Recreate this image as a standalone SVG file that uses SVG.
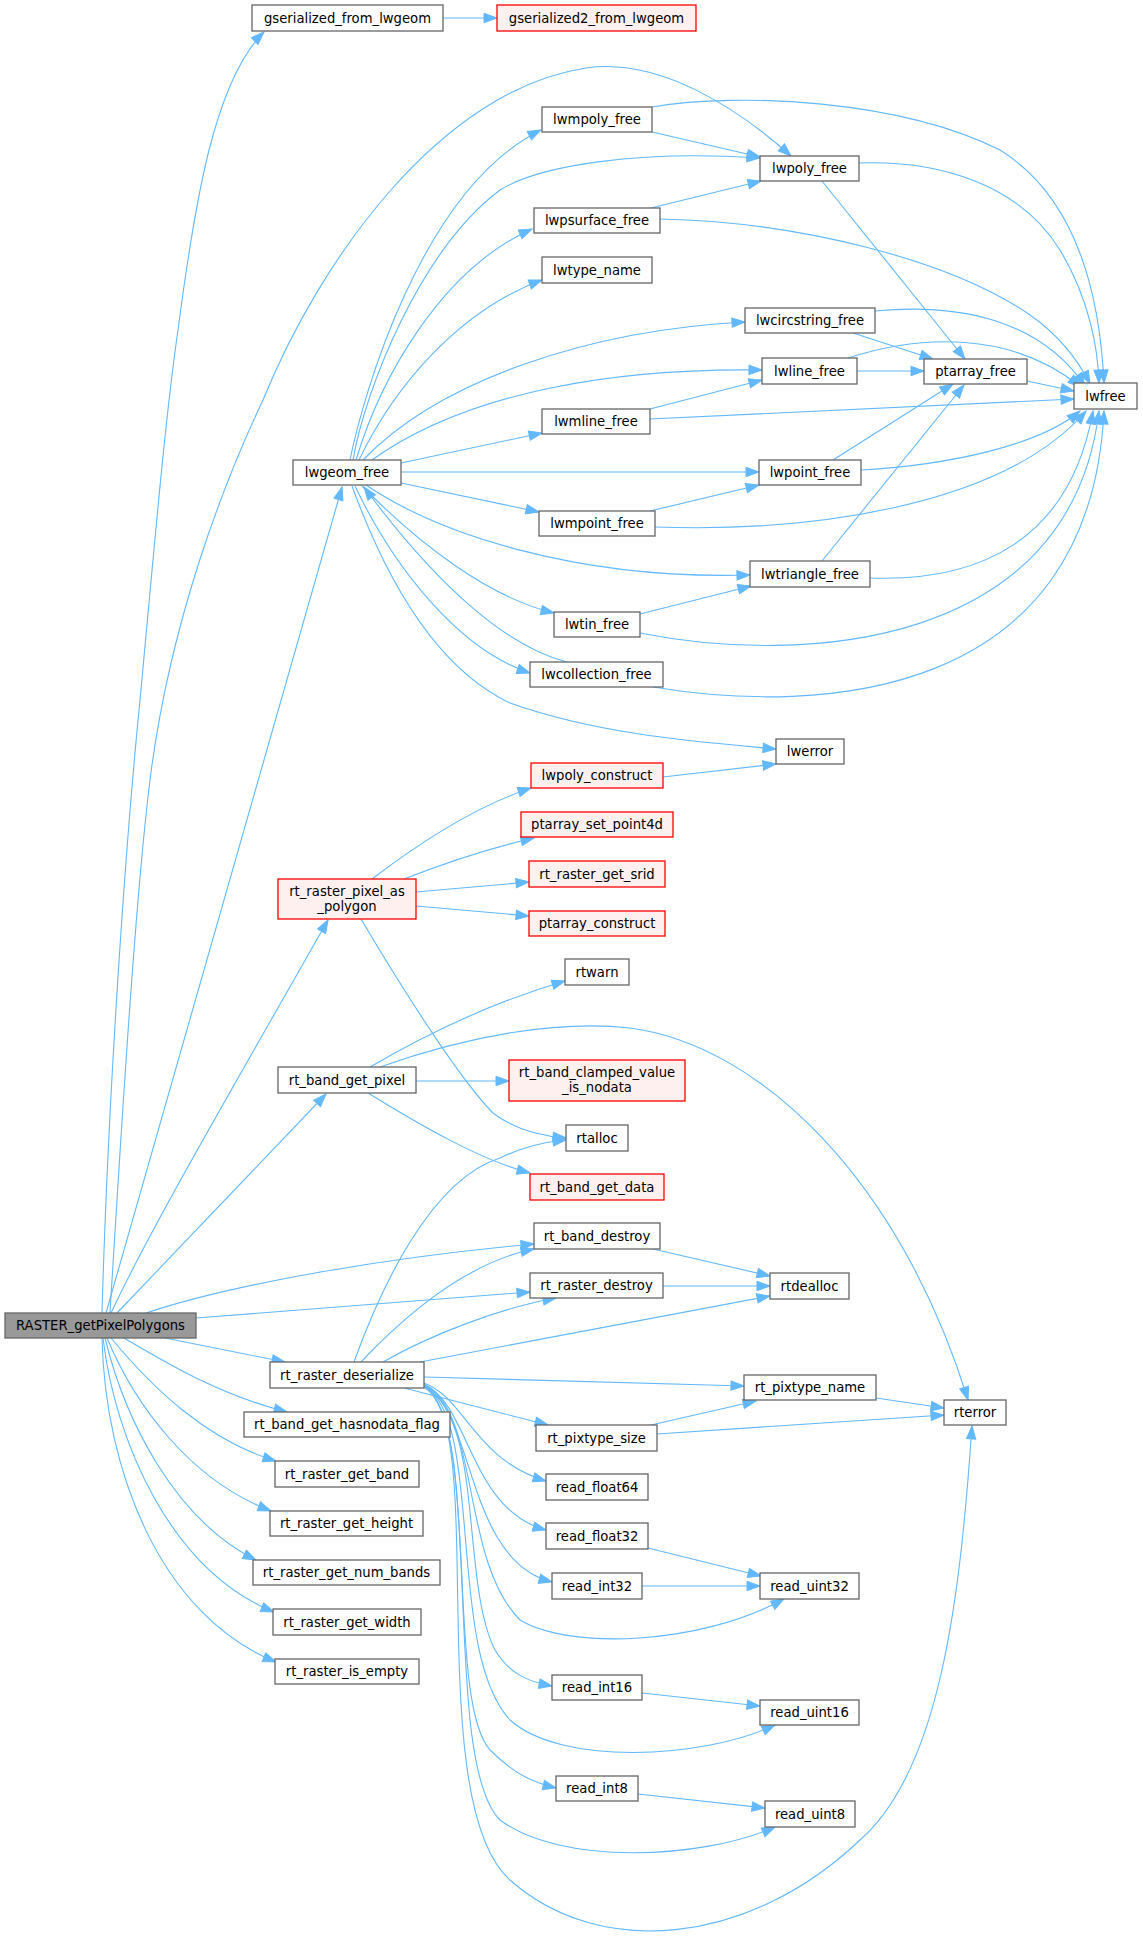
<svg xmlns="http://www.w3.org/2000/svg" width="1143" height="1940" viewBox="0 0 1143 1940">
<defs>
<marker id="a" markerUnits="userSpaceOnUse" markerWidth="14" markerHeight="10" refX="13" refY="4.7" orient="auto" overflow="visible">
<path d="M0,0 L13,4.7 L0,9.4 z" fill="#63b8ff" stroke="#63b8ff" stroke-width="1"/>
</marker>
<style>
.n rect{fill:#ffffff;stroke:#666666;stroke-width:1.3}
.r rect{fill:#fff0f0;stroke:#ff0000;stroke-width:1.3}
.m rect{fill:#999999;stroke:#666666;stroke-width:1.3}
text{font-family:"DejaVu Sans","Liberation Sans",sans-serif;font-size:13.2px;text-anchor:middle;fill:#000000}
#edges path{fill:none;stroke:#63b8ff;stroke-width:1.1;marker-end:url(#a)}
</style>
</defs>
<rect width="1143" height="1940" fill="#ffffff"/>
<g id="edges">
<path d="M102,1313 C108,1100 125,850 140,700 C155,540 165,420 178,330 C195,200 215,80 264,32"/>
<path d="M110,1313 C120,1150 135,900 150,780 C170,620 225,480 263,400 C320,260 440,90 586,68 C660,57 740,110 791,156"/>
<path d="M106,1313 L342,487"/>
<path d="M111,1313 C150,1230 220,1110 328,920"/>
<path d="M117,1313 L326,1094"/>
<path d="M146,1313 C230,1285 380,1258 534,1244"/>
<path d="M196,1318 L530,1292"/>
<path d="M165,1338 L285,1362"/>
<path d="M124,1338 C170,1365 220,1395 287,1412"/>
<path d="M111,1338 C150,1385 205,1440 276,1461"/>
<path d="M107,1338 C135,1405 190,1480 271,1511"/>
<path d="M105,1338 C125,1420 175,1520 256,1560"/>
<path d="M103,1338 C115,1440 170,1570 274,1612"/>
<path d="M102,1338 C105,1470 160,1615 276,1662"/>
<path d="M443,18 L497,18"/>
<path d="M350,460 C362,400 420,190 541,130"/>
<path d="M353,460 C365,390 420,250 500,190 C540,165 640,150 760,158"/>
<path d="M356,460 C380,380 440,270 532,229"/>
<path d="M359,460 C395,385 460,310 542,280"/>
<path d="M363,460 C440,380 590,330 745,322"/>
<path d="M372,460 C470,390 620,368 762,370"/>
<path d="M401,463 L542,433"/>
<path d="M401,472 L759,472"/>
<path d="M401,483 L539,512"/>
<path d="M366,485 C440,535 580,580 750,575"/>
<path d="M362,486 C420,545 490,598 554,613"/>
<path d="M355,486 C395,570 460,650 530,673"/>
<path d="M567,662 C510,648 440,590 364,487"/>
<path d="M352,486 C390,590 440,670 510,703 C600,735 700,742 776,749"/>
<path d="M652,132 L760,157"/>
<path d="M652,107 C740,92 900,100 1000,150 C1080,200 1100,300 1104,383"/>
<path d="M859,163 C940,160 1020,185 1060,250 C1090,300 1098,350 1099,383"/>
<path d="M822,181 L965,359"/>
<path d="M651,208 L761,181"/>
<path d="M660,219 C800,222 950,260 1030,315 C1060,336 1078,360 1090,384"/>
<path d="M875,311 C960,303 1040,320 1085,386"/>
<path d="M853,333 L933,359"/>
<path d="M857,371 L924,371"/>
<path d="M848,358 C920,335 1010,330 1081,387"/>
<path d="M1027,381 L1074,391"/>
<path d="M650,409 L762,380"/>
<path d="M650,419 L1074,399"/>
<path d="M833,460 L953,384"/>
<path d="M861,470 C950,465 1040,445 1080,411"/>
<path d="M650,511 L759,485"/>
<path d="M655,527 C800,532 1000,510 1086,411"/>
<path d="M822,561 L964,385"/>
<path d="M870,578 C980,582 1070,540 1093,411"/>
<path d="M640,614 L751,586"/>
<path d="M640,633 C800,665 1070,650 1099,411"/>
<path d="M653,687 C820,715 1090,700 1104,411"/>
<path d="M663,777 L776,764"/>
<path d="M372,879 C410,850 470,808 531,788"/>
<path d="M404,879 C440,865 490,848 534,838"/>
<path d="M416,892 L529,882"/>
<path d="M416,906 L529,916"/>
<path d="M361,919 C400,985 460,1080 493,1113 C515,1130 540,1136 566,1138"/>
<path d="M370,1067 C430,1032 500,1000 565,981"/>
<path d="M380,1067 C470,1035 560,1020 630,1028 C760,1045 900,1180 968,1400"/>
<path d="M416,1081 L509,1081"/>
<path d="M368,1093 C420,1125 480,1160 530,1173"/>
<path d="M354,1362 C380,1290 430,1180 500,1158 C520,1148 545,1142 566,1140"/>
<path d="M361,1362 C410,1310 470,1262 534,1249"/>
<path d="M383,1362 C430,1335 500,1308 556,1298"/>
<path d="M420,1362 L770,1296"/>
<path d="M424,1377 L744,1386"/>
<path d="M404,1388 L548,1425"/>
<path d="M424,1383 C465,1398 475,1460 546,1481"/>
<path d="M424,1384 C470,1405 470,1510 546,1530"/>
<path d="M424,1385 C475,1410 465,1560 552,1582"/>
<path d="M424,1385 C480,1410 460,1560 520,1620 C570,1650 700,1645 784,1599"/>
<path d="M424,1386 C485,1420 460,1580 495,1650 C510,1675 530,1682 552,1686"/>
<path d="M424,1386 C485,1420 445,1650 510,1720 C560,1765 700,1760 775,1725"/>
<path d="M424,1387 C480,1420 445,1700 490,1750 C515,1775 535,1783 556,1788"/>
<path d="M424,1387 C485,1420 440,1760 500,1820 C560,1865 700,1860 775,1827"/>
<path d="M424,1387 C490,1420 420,1800 510,1880 C600,1960 750,1945 860,1840 C940,1770 960,1600 972,1426"/>
<path d="M651,1425 L756,1401"/>
<path d="M657,1434 L944,1415"/>
<path d="M876,1398 L944,1408"/>
<path d="M653,1249 L770,1276"/>
<path d="M663,1286 L770,1286"/>
<path d="M648,1548 L761,1576"/>
<path d="M642,1586 L760,1586"/>
<path d="M642,1693 L760,1706"/>
<path d="M638,1794 L765,1808"/>
</g>
<g id="RASTER_getPixelPolygons" class="m"><rect x="5" y="1313" width="191" height="25"/><text x="100.5" y="1330.2">RASTER_getPixelPolygons</text></g>
<g id="gserialized_from_lwgeom" class="n"><rect x="252" y="5" width="191" height="26"/><text x="347.5" y="22.7">gserialized_from_lwgeom</text></g>
<g id="gserialized2_from_lwgeom" class="r"><rect x="497" y="5" width="199" height="26"/><text x="596.5" y="22.7">gserialized2_from_lwgeom</text></g>
<g id="lwgeom_free" class="n"><rect x="293" y="460" width="108" height="25"/><text x="347" y="477.2">lwgeom_free</text></g>
<g id="lwmpoly_free" class="n"><rect x="542" y="107" width="110" height="25"/><text x="597" y="124.2">lwmpoly_free</text></g>
<g id="lwpoly_free" class="n"><rect x="760" y="156" width="99" height="25"/><text x="809.5" y="173.2">lwpoly_free</text></g>
<g id="lwpsurface_free" class="n"><rect x="534" y="208" width="126" height="25"/><text x="597" y="225.2">lwpsurface_free</text></g>
<g id="lwtype_name" class="n"><rect x="542" y="257" width="110" height="26"/><text x="597" y="274.7">lwtype_name</text></g>
<g id="lwcircstring_free" class="n"><rect x="745" y="308" width="130" height="25"/><text x="810" y="325.2">lwcircstring_free</text></g>
<g id="lwline_free" class="n"><rect x="762" y="358" width="95" height="26"/><text x="809.5" y="375.7">lwline_free</text></g>
<g id="ptarray_free" class="n"><rect x="924" y="359" width="103" height="25"/><text x="975.5" y="376.2">ptarray_free</text></g>
<g id="lwfree" class="n"><rect x="1074" y="383" width="63" height="26"/><text x="1105.5" y="400.7">lwfree</text></g>
<g id="lwmline_free" class="n"><rect x="542" y="409" width="108" height="25"/><text x="596" y="426.2">lwmline_free</text></g>
<g id="lwpoint_free" class="n"><rect x="759" y="460" width="102" height="25"/><text x="810" y="477.2">lwpoint_free</text></g>
<g id="lwmpoint_free" class="n"><rect x="539" y="511" width="116" height="25"/><text x="597" y="528.2">lwmpoint_free</text></g>
<g id="lwtriangle_free" class="n"><rect x="750" y="561" width="120" height="26"/><text x="810" y="578.7">lwtriangle_free</text></g>
<g id="lwtin_free" class="n"><rect x="554" y="612" width="86" height="25"/><text x="597" y="629.2">lwtin_free</text></g>
<g id="lwcollection_free" class="n"><rect x="530" y="662" width="133" height="25"/><text x="596.5" y="679.2">lwcollection_free</text></g>
<g id="lwerror" class="n"><rect x="776" y="739" width="68" height="25"/><text x="810" y="756.2">lwerror</text></g>
<g id="lwpoly_construct" class="r"><rect x="531" y="763" width="132" height="25"/><text x="597" y="780.2">lwpoly_construct</text></g>
<g id="ptarray_set_point4d" class="r"><rect x="521" y="812" width="152" height="25"/><text x="597" y="829.2">ptarray_set_point4d</text></g>
<g id="rt_raster_get_srid" class="r"><rect x="529" y="861" width="136" height="26"/><text x="597" y="878.7">rt_raster_get_srid</text></g>
<g id="ptarray_construct" class="r"><rect x="529" y="911" width="136" height="25"/><text x="597" y="928.2">ptarray_construct</text></g>
<g id="rt_raster_pixel_as_polygon" class="r"><rect x="278" y="879" width="138" height="40"/><text x="347" y="896">rt_raster_pixel_as</text><text x="347" y="911">_polygon</text></g>
<g id="rtwarn" class="n"><rect x="565" y="959" width="64" height="26"/><text x="597" y="976.7">rtwarn</text></g>
<g id="rt_band_get_pixel" class="n"><rect x="278" y="1067" width="138" height="26"/><text x="347" y="1084.7">rt_band_get_pixel</text></g>
<g id="rt_band_clamped_value_is_nodata" class="r"><rect x="509" y="1060" width="176" height="41"/><text x="597" y="1077">rt_band_clamped_value</text><text x="597" y="1092">_is_nodata</text></g>
<g id="rtalloc" class="n"><rect x="566" y="1125" width="62" height="26"/><text x="597" y="1142.7">rtalloc</text></g>
<g id="rt_band_get_data" class="r"><rect x="530" y="1174" width="134" height="26"/><text x="597" y="1191.7">rt_band_get_data</text></g>
<g id="rt_band_destroy" class="n"><rect x="534" y="1223" width="126" height="26"/><text x="597" y="1240.7">rt_band_destroy</text></g>
<g id="rt_raster_destroy" class="n"><rect x="530" y="1273" width="133" height="25"/><text x="596.5" y="1290.2">rt_raster_destroy</text></g>
<g id="rtdealloc" class="n"><rect x="770" y="1273" width="79" height="26"/><text x="809.5" y="1290.7">rtdealloc</text></g>
<g id="rt_raster_deserialize" class="n"><rect x="270" y="1362" width="154" height="26"/><text x="347" y="1379.7">rt_raster_deserialize</text></g>
<g id="rt_pixtype_name" class="n"><rect x="744" y="1375" width="132" height="25"/><text x="810" y="1392.2">rt_pixtype_name</text></g>
<g id="rterror" class="n"><rect x="944" y="1400" width="62" height="25"/><text x="975" y="1417.2">rterror</text></g>
<g id="rt_band_get_hasnodata_flag" class="n"><rect x="244" y="1412" width="206" height="25"/><text x="347" y="1429.2">rt_band_get_hasnodata_flag</text></g>
<g id="rt_pixtype_size" class="n"><rect x="536" y="1425" width="121" height="26"/><text x="596.5" y="1442.7">rt_pixtype_size</text></g>
<g id="rt_raster_get_band" class="n"><rect x="275" y="1461" width="144" height="26"/><text x="347" y="1478.7">rt_raster_get_band</text></g>
<g id="read_float64" class="n"><rect x="546" y="1474" width="102" height="26"/><text x="597" y="1491.7">read_float64</text></g>
<g id="rt_raster_get_height" class="n"><rect x="270" y="1511" width="153" height="25"/><text x="346.5" y="1528.2">rt_raster_get_height</text></g>
<g id="read_float32" class="n"><rect x="546" y="1523" width="102" height="26"/><text x="597" y="1540.7">read_float32</text></g>
<g id="rt_raster_get_num_bands" class="n"><rect x="253" y="1560" width="187" height="25"/><text x="346.5" y="1577.2">rt_raster_get_num_bands</text></g>
<g id="read_int32" class="n"><rect x="552" y="1573" width="90" height="26"/><text x="597" y="1590.7">read_int32</text></g>
<g id="read_uint32" class="n"><rect x="760" y="1573" width="99" height="26"/><text x="809.5" y="1590.7">read_uint32</text></g>
<g id="rt_raster_get_width" class="n"><rect x="273" y="1609" width="148" height="26"/><text x="347" y="1626.7">rt_raster_get_width</text></g>
<g id="rt_raster_is_empty" class="n"><rect x="275" y="1659" width="144" height="25"/><text x="347" y="1676.2">rt_raster_is_empty</text></g>
<g id="read_int16" class="n"><rect x="552" y="1675" width="90" height="25"/><text x="597" y="1692.2">read_int16</text></g>
<g id="read_uint16" class="n"><rect x="760" y="1700" width="99" height="25"/><text x="809.5" y="1717.2">read_uint16</text></g>
<g id="read_int8" class="n"><rect x="556" y="1776" width="82" height="25"/><text x="597" y="1793.2">read_int8</text></g>
<g id="read_uint8" class="n"><rect x="765" y="1801" width="90" height="26"/><text x="810" y="1818.7">read_uint8</text></g>
</svg>
